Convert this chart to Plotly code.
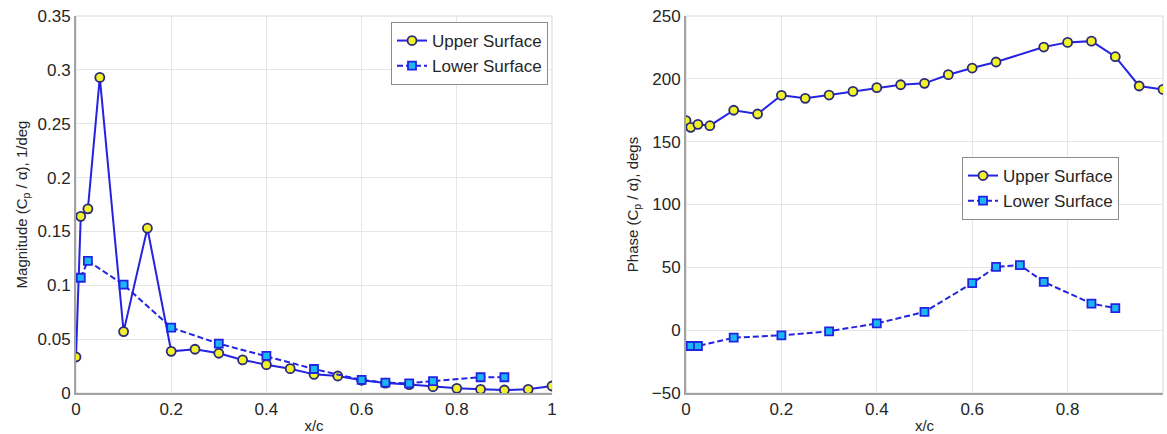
import plotly.graph_objects as go
from plotly.subplots import make_subplots

# Magnitude of Cp/alpha (1/deg)
x_mag_upper = [0, 0.01, 0.025, 0.05, 0.1, 0.15, 0.2, 0.25, 0.3, 0.35, 0.4, 0.45,
               0.5, 0.55, 0.6, 0.65, 0.7, 0.75, 0.8, 0.85, 0.9, 0.95, 1.0]
mag_upper = [0.0334, 0.164, 0.171, 0.293, 0.057, 0.153, 0.0387, 0.0406, 0.0369,
             0.0307, 0.0263, 0.0226, 0.0173, 0.0158, 0.0118, 0.0092, 0.0078,
             0.0059, 0.0043, 0.0034, 0.0028, 0.0034, 0.0065]
x_mag_lower = [0.01, 0.025, 0.1, 0.2, 0.3, 0.4, 0.5, 0.6, 0.65, 0.7, 0.75, 0.85, 0.9]
mag_lower = [0.107, 0.1226, 0.1006, 0.0607, 0.0458, 0.0344, 0.0223, 0.0121,
             0.0096, 0.009, 0.0111, 0.0146, 0.0146]

# Phase of Cp/alpha (degrees)
x_ph_upper = [0, 0.01, 0.025, 0.05, 0.1, 0.15, 0.2, 0.25, 0.3, 0.35, 0.4, 0.45,
              0.5, 0.55, 0.6, 0.65, 0.75, 0.8, 0.85, 0.9, 0.95, 1.0]
ph_upper = [166.7, 161.4, 163.8, 162.7, 175.0, 172.0, 186.9, 184.5, 187.1, 190.0,
            193.0, 195.3, 196.4, 203.3, 208.6, 213.4, 225.3, 229.0, 230.0, 217.6,
            194.3, 191.6]
x_ph_lower = [0.01, 0.025, 0.1, 0.2, 0.3, 0.4, 0.5, 0.6, 0.65, 0.7, 0.75, 0.85, 0.9]
ph_lower = [-12.6, -12.6, -6.0, -4.1, -0.9, 5.4, 14.5, 37.4, 50.4, 51.8, 38.4, 21.2, 17.5]

LINE_BLUE = "rgb(35,35,225)"
FONT = "Liberation Sans, Arial, sans-serif"
TEXT = "#262626"

fig = make_subplots(rows=1, cols=2)

def add_pair(col, xu, yu, xl, yl, legend):
    fig.add_trace(go.Scatter(
        x=xu, y=yu, mode="lines+markers", name="Upper Surface", legend=legend,
        line=dict(color=LINE_BLUE, width=2),
        marker=dict(symbol="circle", size=9, color="#f2f22a",
                    line=dict(color="#2a2a78", width=1.8)),
    ), row=1, col=col)
    fig.add_trace(go.Scatter(
        x=xl, y=yl, mode="lines+markers", name="Lower Surface", legend=legend,
        line=dict(color=LINE_BLUE, width=2, dash="6px,3px"),
        marker=dict(symbol="square", size=8, color="#19b8f5",
                    line=dict(color=LINE_BLUE, width=1.8)),
    ), row=1, col=col)

add_pair(1, x_mag_upper, mag_upper, x_mag_lower, mag_lower, "legend")
add_pair(2, x_ph_upper, ph_upper, x_ph_lower, ph_lower, "legend2")

W, H = 1167, 434
left_dom = [76 / W, 552 / W]
right_dom = [686 / W, 1163 / W]
y_dom = [1 - 393 / H, 1 - 16 / H]

axis_common = dict(
    showgrid=True, gridcolor="#e6e6e6", gridwidth=1,
    showline=True, linecolor="#a3a3a3", linewidth=2,
    ticks="", zeroline=False,
    tickfont=dict(family=FONT, size=17, color=TEXT),
    automargin=False,
)
title_font = dict(family=FONT, size=15, color=TEXT)

fig.update_xaxes(domain=left_dom, range=[0, 1], dtick=0.2, row=1, col=1,
                 title=dict(text="x/c", font=title_font, standoff=4),
                 **axis_common)
fig.update_xaxes(domain=right_dom, range=[0, 1], dtick=0.2, row=1, col=2,
                 title=dict(text="x/c", font=title_font, standoff=4),
                 **axis_common)
fig.update_yaxes(domain=y_dom, range=[0, 0.35], row=1, col=1,
                 tickvals=[0, 0.05, 0.1, 0.15, 0.2, 0.25, 0.3, 0.35],
                 ticktext=["0", "0.05", "0.1", "0.15", "0.2", "0.25", "0.3", "0.35"],
                 title=dict(text="Magnitude (C<sub>p</sub> / α), 1/deg",
                            font=title_font, standoff=6),
                 **axis_common)
fig.update_yaxes(domain=y_dom, range=[-50, 250], dtick=50, row=1, col=2,
                 title=dict(text="Phase (C<sub>p</sub> / α), degs",
                            font=title_font, standoff=10),
                 **axis_common)

# light frame on the top and right edges of each axes box
for xr in ["x", "x2"]:
    fig.add_shape(type="rect", xref=f"{xr} domain", yref="y domain",
                  x0=0, x1=1, y0=0, y1=1, line=dict(color="#d6d6d6", width=1),
                  layer="below")

legend_style = dict(
    bgcolor="white", bordercolor="#8c8c8c", borderwidth=1,
    font=dict(family=FONT, size=17, color=TEXT),
    tracegroupgap=0, itemwidth=30,
)
fig.update_layout(
    width=W, height=H,
    margin=dict(l=0, r=0, t=0, b=0),
    paper_bgcolor="white", plot_bgcolor="white",
    showlegend=True,
    legend=dict(x=548 / W, y=1 - 22 / H, xanchor="right", yanchor="top", **legend_style),
    legend2=dict(x=1119 / W, y=1 - 157 / H, xanchor="right", yanchor="top", **legend_style),
)

fig.write_html("out.html")
